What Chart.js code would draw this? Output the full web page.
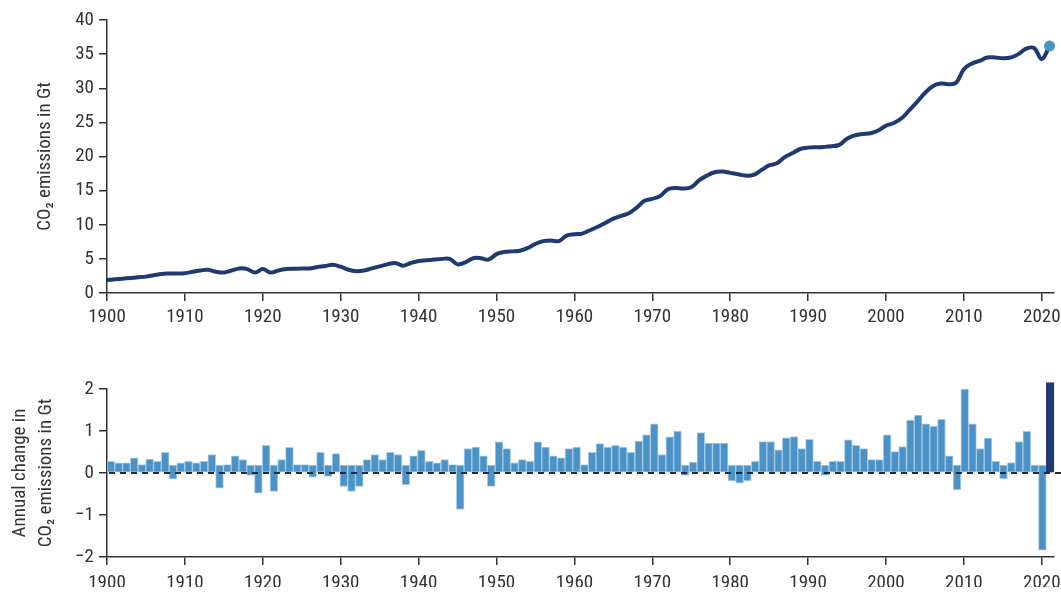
<!DOCTYPE html>
<html>
<head>
<meta charset="utf-8">
<script src="https://cdn.jsdelivr.net/npm/chart.js@4/dist/chart.umd.min.js"></script>
<style>
  html, body { margin: 0; padding: 0; background: #ffffff; }
  #wrap { position: relative; width: 1061px; height: 594px; overflow: hidden; }
  .panel { position: absolute; left: 0; width: 1061px; }
  #topPanel { top: 0; height: 335px; }
  #bottomPanel { top: 340px; height: 254px; }
</style>
</head>
<body>
<div id="wrap">
  <div class="panel" id="topPanel"><canvas id="emissionsChart"></canvas></div>
  <div class="panel" id="bottomPanel"><canvas id="changeChart"></canvas></div>
</div>
<script>
// Years 1900–2021
const years = Array.from({ length: 122 }, (_, i) => 1900 + i);

// Global CO2 emissions, Gt
const emissions = [
  1.9, 2.0, 2.1, 2.2, 2.3, 2.4, 2.6, 2.8, 2.85, 2.85,          // 1900s
  2.9, 3.1, 3.3, 3.4, 3.1, 3.0, 3.3, 3.6, 3.5, 3.0,            // 1910s
  3.5, 3.0, 3.3, 3.5, 3.55, 3.6, 3.6, 3.8, 3.95, 4.15,         // 1920s
  3.85, 3.4, 3.2, 3.3, 3.6, 3.9, 4.2, 4.4, 4.0, 4.4,           // 1930s
  4.7, 4.8, 4.9, 5.0, 5.0, 4.2, 4.5, 5.1, 5.1, 4.9,            // 1940s
  5.7, 6.0, 6.1, 6.2, 6.6, 7.2, 7.6, 7.7, 7.6, 8.4,            // 1950s
  8.6, 8.7, 9.2, 9.7, 10.3, 10.9, 11.3, 11.7, 12.5, 13.5,      // 1960s
  13.8, 14.2, 15.2, 15.4, 15.3, 15.5, 16.5, 17.2, 17.7, 17.8,  // 1970s
  17.6, 17.4, 17.2, 17.3, 18.0, 18.7, 19.0, 19.9, 20.5, 21.1,  // 1980s
  21.3, 21.35, 21.4, 21.5, 21.7, 22.6, 23.1, 23.3, 23.4, 23.8, // 1990s
  24.5, 24.9, 25.6, 26.8, 28.0, 29.3, 30.3, 30.7, 30.6, 30.8,  // 2000s
  32.8, 33.6, 34.0, 34.5, 34.5, 34.4, 34.5, 35.0, 35.8, 35.9,  // 2010s
  34.3, 36.2                                                   // 2020–2021
];

// Annual change in CO2 emissions, Gt
const annualChange = [
  0.28, 0.24, 0.24, 0.36, 0.20, 0.33, 0.28, 0.49, -0.14, 0.24,   // 1900s
  0.28, 0.24, 0.28, 0.44, -0.36, 0.20, 0.41, 0.32, -0.06, -0.48, // 1910s
  0.66, -0.44, 0.32, 0.61, 0.20, 0.20, -0.10, 0.49, -0.08, 0.46, // 1920s
  -0.32, -0.44, -0.32, 0.32, 0.44, 0.32, 0.49, 0.44, -0.28, 0.41,// 1930s
  0.54, 0.28, 0.24, 0.32, 0.20, -0.87, 0.58, 0.62, 0.41, -0.32,  // 1940s
  0.74, 0.58, 0.24, 0.32, 0.28, 0.74, 0.62, 0.41, 0.36, 0.58,    // 1950s
  0.62, 0.20, 0.49, 0.70, 0.62, 0.66, 0.62, 0.49, 0.76, 0.91,    // 1960s
  1.17, 0.44, 0.86, 1.00, -0.06, 0.26, 0.96, 0.71, 0.71, 0.71,   // 1970s
  -0.19, -0.24, -0.19, 0.28, 0.75, 0.75, 0.55, 0.84, 0.87, 0.58, // 1980s
  0.80, 0.28, -0.06, 0.28, 0.28, 0.79, 0.66, 0.58, 0.32, 0.32,   // 1990s
  0.91, 0.51, 0.63, 1.26, 1.38, 1.17, 1.12, 1.28, 0.41, -0.40,   // 2000s
  2.00, 1.17, 0.58, 0.83, 0.28, -0.14, 0.25, 0.75, 0.99, 0.19,   // 2010s
  -1.84, 2.15                                                    // 2020–2021
];

// Decade ticks on the year axes
const yearTicks = [1900, 1910, 1920, 1930, 1940, 1950, 1960, 1970, 1980, 1990, 2000, 2010, 2020];
const emissionTicks = [0, 5, 10, 15, 20, 25, 30, 35, 40];
const changeTicks = [-2, -1, 0, 1, 2];

// Negative years are drawn hanging from the top of the common floor band
const floorTop = 0.19;

const NAVY = '#1f3a70';
const BLUE = '#4b92c6';
const INK = '#333333';
const FONT = "'Liberation Sans Narrow', 'Roboto Condensed', 'DejaVu Sans Condensed', 'Liberation Sans', sans-serif";

const yearMin = 1900;
const yearMax = 2021.57;

function minusSign(v) {
  return v < 0 ? '\u2212' + Math.abs(v) : String(v);
}

function axisStyle() {
  return {
    border: { display: true, color: INK, width: 1.5 },
    grid: { drawOnChartArea: false, drawTicks: true, tickLength: 8, color: INK, lineWidth: 1.5, offset: false },
  };
}

function yearAxis(height, pad) {
  return Object.assign(axisStyle(), {
    type: 'linear',
    position: 'bottom',
    offset: false,
    min: yearMin,
    max: yearMax,
    afterBuildTicks: s => { s.ticks = yearTicks.map(v => ({ value: v })); },
    afterFit: s => { s.height = height; s.paddingLeft = 0; s.paddingRight = 0; },
    ticks: {
      color: INK,
      font: { family: FONT, size: 19 },
      padding: pad,
      maxRotation: 0,
      autoSkip: false,
      callback: v => String(v)
    }
  });
}

Chart.defaults.animation = false;
Chart.defaults.font.family = FONT;

// ---- Top panel: emissions level ----
new Chart(document.getElementById('emissionsChart'), {
  type: 'line',
  data: {
    datasets: [{
      data: years.map((y, i) => ({ x: y, y: emissions[i] })),
      borderColor: NAVY,
      borderWidth: 4,
      tension: 0.4,
      fill: false,
      pointRadius: ctx => ctx.dataIndex === emissions.length - 1 ? 5.5 : 0,
      pointBackgroundColor: BLUE,
      pointBorderColor: BLUE,
      pointBorderWidth: 0,
      clip: false
    }]
  },
  options: {
    responsive: true,
    maintainAspectRatio: false,
    layout: { padding: { left: 0, right: 7, top: 20, bottom: 12 } },
    plugins: { legend: { display: false }, tooltip: { enabled: false } },
    scales: {
      x: yearAxis(30, 5),
      y: Object.assign(axisStyle(), {
        min: 0,
        max: 40,
        afterBuildTicks: s => { s.ticks = emissionTicks.map(v => ({ value: v })); },
        afterFit: s => { s.width = 107; },
        ticks: { color: INK, font: { family: FONT, size: 19 }, padding: 5 },
        title: {
          display: true,
          text: 'CO\u2082 emissions in Gt',
          color: INK,
          font: { family: FONT, size: 19, lineHeight: 1.2 },
          padding: { top: 34, bottom: 0 }
        }
      })
    }
  }
});

// Dashed zero line drawn over the bars, running to the panel's right edge
const zeroLine = {
  id: 'zeroLine',
  afterDatasetsDraw(chart) {
    const y = chart.scales.y.getPixelForValue(0);
    const ctx = chart.ctx;
    ctx.save();
    ctx.strokeStyle = '#2a2a2a';
    ctx.lineWidth = 2;
    ctx.setLineDash([6, 5]);
    ctx.beginPath();
    ctx.moveTo(chart.chartArea.left + 2, y);
    ctx.lineTo(chart.width, y);
    ctx.stroke();
    ctx.restore();
  }
};

// ---- Bottom panel: annual change ----
new Chart(document.getElementById('changeChart'), {
  type: 'bar',
  data: {
    labels: years,
    datasets: [{
      data: annualChange.map(v => (v < 0 ? [floorTop, v] : [0, v])),
      backgroundColor: ctx => ctx.dataIndex === annualChange.length - 1 ? NAVY : BLUE,
      borderColor: ctx => ctx.dataIndex === annualChange.length - 1 ? NAVY : 'rgba(160,200,230,0.9)',
      borderWidth: 1,
      borderSkipped: false,
      barPercentage: 1.0,
      categoryPercentage: 1.0,
      clip: false,
      xAxisID: 'x'
    }]
  },
  plugins: [zeroLine],
  options: {
    responsive: true,
    maintainAspectRatio: false,
    layout: { padding: { left: 0, right: 7, top: 49, bottom: 7 } },
    plugins: { legend: { display: false }, tooltip: { enabled: false } },
    scales: {
      x: { type: 'category', display: false, offset: true,
           afterFit: s => { s.paddingLeft = 0; s.paddingRight = 0; } },
      xt: yearAxis(30, 7),
      y: Object.assign(axisStyle(), {
        min: -2,
        max: 2,
        afterBuildTicks: s => { s.ticks = changeTicks.map(v => ({ value: v })); },
        afterFit: s => { s.width = 107; },
        ticks: { color: INK, font: { family: FONT, size: 19 }, padding: 5, callback: v => minusSign(v) },
        title: {
          display: true,
          text: ['Annual change in', 'CO\u2082 emissions in Gt'],
          color: INK,
          font: { family: FONT, size: 19, lineHeight: 1.37 },
          padding: { top: 7, bottom: 0 }
        }
      })
    }
  }
});
</script>
</body>
</html>
